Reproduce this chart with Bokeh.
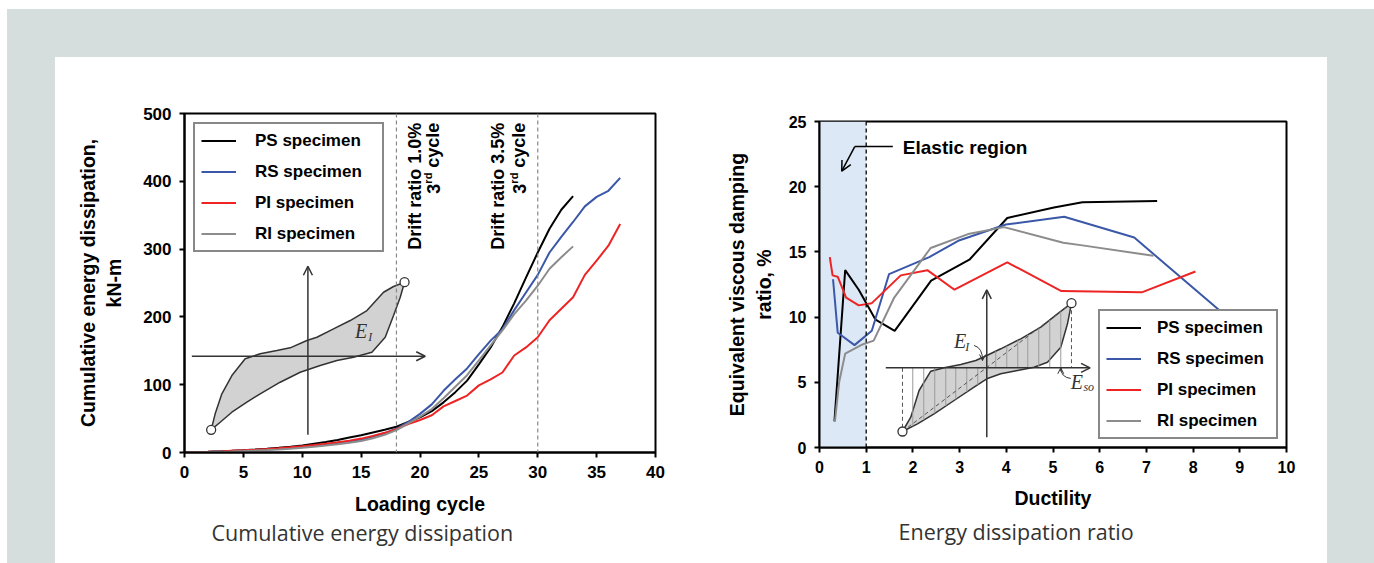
import numpy as np
from bokeh.plotting import figure
from bokeh.models import (Range1d, FixedTicker, Legend, LegendItem, Span, BoxAnnotation,
                          Label, Title, Arrow, OpenHead)
from bokeh.layouts import row, column
from bokeh.embed import file_html
from bokeh.resources import INLINE

# ---------------- data: cumulative energy dissipation (kN-m) vs loading cycle ----------------
ps_cycles = list(range(0, 34))
ps_energy = [0, 0.5, 1, 1.7, 2.5, 3.4, 4.4, 5.5, 7, 8.6, 10.5, 13, 15.5, 18.5, 22, 25.5, 29.5,
             33.5, 38, 45, 52, 61, 74, 89, 106, 130, 155, 185, 220, 258, 295, 330, 358, 378]
rs_cycles = list(range(0, 38))
rs_energy = [0, 0.4, 0.8, 1.3, 2, 2.8, 3.6, 4.6, 5.7, 7, 8.5, 10, 11.8, 14, 16.5, 19, 23.5, 28.5,
             35, 45, 57, 71, 91, 108, 124, 145, 165, 182, 210, 236, 262, 295, 318, 340, 363, 377,
             386, 405]
pi_cycles = list(range(0, 38))
pi_energy = [0, 0.5, 1, 1.6, 2.4, 3.2, 4.1, 5.1, 6.3, 7.7, 9.3, 11, 13, 15.2, 17.5, 20.5, 24.5, 29,
             34.5, 42, 48, 55, 68, 76, 84, 99, 108, 118, 143, 155, 170, 195, 212, 229, 262, 283,
             305, 337]
ri_cycles = list(range(0, 34))
ri_energy = [0, 0.3, 0.6, 1, 1.5, 2.1, 2.8, 3.6, 4.5, 5.6, 7, 8.5, 10.2, 12.2, 14.5, 17, 21, 26,
             33, 43, 53, 64, 80, 97, 114, 136, 158, 180, 204, 224, 246, 271, 288, 304]
drift_cycles = [18, 30]
drift_labels = ["Drift ratio 1.0%", "Drift ratio 3.5%"]
drift_text_x = [(19.6, 21.13), (26.65, 28.44)]   # where the two text lines sit (cycle units)

# ---------------- data: equivalent viscous damping ratio (%) vs ductility ----------------
ps_duct = [0.32, 0.55, 0.84, 1.2, 1.61, 2.39, 3.21, 4.02, 5.02, 5.63, 7.23]
ps_damp = [2.0, 13.6, 12.1, 9.8, 8.95, 12.8, 14.4, 17.6, 18.4, 18.8, 18.9]
rs_duct = [0.29, 0.39, 0.75, 1.12, 1.49, 2.35, 2.97, 3.99, 5.24, 6.74, 8.65]
rs_damp = [12.9, 8.8, 7.85, 8.95, 13.3, 14.6, 15.85, 17.1, 17.7, 16.1, 10.25]
pi_duct = [0.22, 0.28, 0.39, 0.57, 0.84, 1.12, 1.74, 2.31, 2.89, 4.02, 5.18, 6.9, 8.05]
pi_damp = [14.6, 13.2, 13.1, 11.5, 10.9, 11.07, 13.2, 13.6, 12.1, 14.2, 12.0, 11.9, 13.5]
ri_duct = [0.33, 0.42, 0.55, 0.92, 1.16, 1.6, 2.38, 3.21, 3.95, 5.22, 5.63, 7.15]
ri_damp = [2.0, 5.0, 7.2, 7.9, 8.2, 11.5, 15.3, 16.4, 16.9, 15.7, 15.5, 14.7]
elastic_limit = 1.0

names = ["PS specimen", "RS specimen", "PI specimen", "RI specimen"]
colors = ["#000000", "#3a57a8", "#ee2424", "#8c8c8c"]

# ---------------- inset sketches (local pixel-like units, origin at sketch axes) ----------------
l_up_u = [-96.7, -92.7, -86.0, -76.0, -62.7, -47.7, -31.0, -17.7, -1.0, 9.0, 25.6, 42.3, 59.0, 75.6, 85.6, 96.6]
l_up_v = [-73.6, -57.6, -37.6, -19.3, -2.6, 2.4, 5.7, 8.4, 15.7, 19.0, 27.4, 35.7, 45.7, 64.0, 69.7, 74.0]
l_lo_u = [92.3, 85.6, 77.3, 64.0, 45.6, 29.0, 12.3, -7.7, -27.7, -47.7, -61.0, -76.0, -87.7]
l_lo_v = [59.0, 40.7, 19.0, 4.0, -1.0, -4.3, -9.3, -16.0, -26.0, -37.6, -46.0, -56.0, -66.0]

r_up_u = [-84.3, -76, -67.7, -56, -42.7, -26, -11, 0, 14, 34, 54, 70.7, 84.7]
r_up_v = [-63.7, -49.4, -22.7, -3.4, 0, 3.3, 7.3, 12.3, 19, 29, 40.6, 54, 64.6]
r_lo_u = [80.7, 74, 60.7, 47.3, 30.7, 14, 0, -12.7, -32.7, -52.7, -69.3]
r_lo_v = [44, 20.6, 5.6, 0.6, -2.7, -6, -11, -19.4, -32.7, -46, -56]
r_hatch_left = [-74, -63, -52, -41, -31, -20, -9]
r_hatch_right = [9, 20, 31, 41, 52, 63, 74]

FONT = "Liberation Sans"
SERIF = "Liberation Serif"
INK = "#333333"


def style(p, xticks, yticks, tick_fs, xlab, ylab, ylab_standoff, xlab_standoff):
    p.grid.visible = False
    p.outline_line_color = "black"
    p.outline_line_width = 2
    p.border_fill_color = "white"
    p.background_fill_color = "white"
    p.xaxis.ticker = FixedTicker(ticks=xticks)
    p.yaxis.ticker = FixedTicker(ticks=yticks)
    for ax in (p.xaxis[0], p.yaxis[0]):
        ax.axis_line_color = "black"
        ax.axis_line_width = 2
        ax.major_tick_line_color = "black"
        ax.major_tick_line_width = 2
        ax.major_tick_out = 5
        ax.major_tick_in = 0
        ax.minor_tick_line_color = None
        ax.major_label_text_font = FONT
        ax.major_label_text_font_style = "bold"
        ax.major_label_text_font_size = tick_fs
        ax.major_label_text_color = "black"
        ax.axis_label_text_font = FONT
        ax.axis_label_text_font_style = "bold"
        ax.axis_label_text_font_size = "19.5px"
        ax.axis_label_text_color = "black"
        ax.major_label_standoff = 8
    p.xaxis.axis_label = xlab
    p.yaxis.axis_label = ylab
    p.xaxis.axis_label_standoff = xlab_standoff
    p.yaxis.axis_label_standoff = ylab_standoff


def make_legend(renderers, location, margin, standoff, label_width):
    items = [LegendItem(label=n, renderers=[r]) for n, r in zip(names, renderers)]
    return Legend(items=items, location=location, margin=margin, padding=6, spacing=10,
                  label_height=21, glyph_height=21, glyph_width=35, label_standoff=standoff,
                  label_width=label_width, border_line_color="#111111", border_line_width=2,
                  background_fill_color="white", background_fill_alpha=1,
                  label_text_font=FONT, label_text_font_style="bold",
                  label_text_font_size="17px", label_text_color="black")


def caption(text, offset, standoff):
    return Title(text=text, align="left", offset=offset, text_font="Open Sans",
                 text_font_style="normal", text_font_size="21.5px", text_color="#333333",
                 standoff=standoff)


# ================= left chart =================
p1 = figure(width=633, height=506, x_range=Range1d(0, 40), y_range=Range1d(0, 500),
            output_backend="svg", toolbar_location=None,
            min_border_left=129, min_border_right=33, min_border_top=56, min_border_bottom=111)
style(p1, list(range(0, 45, 5)), list(range(0, 600, 100)), "17px", "Loading cycle",
      "Cumulative energy dissipation,\nkN-m", 15, 12)

# inset hysteresis sketch
lcx, lcy, lkx, lky = 10.48, 142.0, 11.77, 0.678


def l_map(u, v):
    return list(lcx + np.asarray(u, float) / lkx), list(lcy + np.asarray(v, float) / lky)


lx, ly = l_map(l_up_u + l_lo_u, l_up_v + l_lo_v)
p1.patch(lx, ly, fill_color="#d2d2d2", line_color=INK, line_width=1.5)
ax0, ay0 = l_map([-116, 117.3], [0, 0])
p1.add_layout(Arrow(end=OpenHead(size=9, line_color=INK, line_width=1.5), x_start=ax0[0],
                    y_start=ay0[0], x_end=ax0[1], y_end=ay0[1], line_color=INK, line_width=1.5))
bx0, by0 = l_map([0, 0], [-78.6, 90])
p1.add_layout(Arrow(end=OpenHead(size=9, line_color=INK, line_width=1.5), x_start=bx0[0],
                    y_start=by0[0], x_end=bx0[1], y_end=by0[1], line_color=INK, line_width=1.5))
cx_, cy_ = l_map([-96.7, 96.6], [-73.6, 74.0])
p1.scatter(cx_, cy_, size=9, fill_color="white", line_color=INK, line_width=1.3)
ex, ey = l_map([53.3, 62.3], [25.7, 19.7])
p1.add_layout(Label(x=ex[0], y=ey[0], text="E", text_font=SERIF, text_font_style="italic",
                    text_font_size="20px", text_color=INK, text_align="center",
                    text_baseline="middle"))
p1.add_layout(Label(x=ex[1], y=ey[1], text="I", text_font=SERIF, text_font_style="italic",
                    text_font_size="12px", text_color=INK, text_align="center",
                    text_baseline="middle"))

for c in drift_cycles:
    p1.add_layout(Span(location=c, dimension="height", line_color="#888888",
                       line_dash="4 3", line_width=1.2))

r_left = []
for xs, ys, col in zip([ps_cycles, rs_cycles, pi_cycles, ri_cycles],
                       [ps_energy, rs_energy, pi_energy, ri_energy], colors):
    r_left.append(p1.line(xs, ys, line_color=col, line_width=2))

# rotated drift annotations
top_y = 486.5
for (x1, x2), lab in zip(drift_text_x, drift_labels):
    p1.add_layout(Label(x=x1, y=top_y, text=lab, angle=90, angle_units="deg",
                        text_align="right", text_baseline="middle", text_font=FONT,
                        text_font_style="bold", text_font_size="18px", text_color="black"))
    p1.add_layout(Label(x=x2, y=top_y, text="cycle", angle=90, angle_units="deg",
                        text_align="right", text_baseline="middle", text_font=FONT,
                        text_font_style="bold", text_font_size="18px", text_color="black"))
    p1.add_layout(Label(x=x2, y=top_y, y_offset=-50, x_offset=-5, text="rd", angle=90,
                        angle_units="deg", text_align="right", text_baseline="middle",
                        text_font=FONT, text_font_style="bold", text_font_size="11px",
                        text_color="black"))
    p1.add_layout(Label(x=x2, y=top_y, y_offset=-61, text="3", angle=90, angle_units="deg",
                        text_align="right", text_baseline="middle", text_font=FONT,
                        text_font_style="bold", text_font_size="18px", text_color="black"))

p1.add_layout(make_legend(r_left, "top_left", 9, 19, 121))
p1.add_layout(caption("Cumulative energy dissipation", 27, -4), "below")

# ================= right chart =================
p2 = figure(width=639, height=493, x_range=Range1d(0, 10), y_range=Range1d(0, 25),
            output_backend="svg", toolbar_location=None,
            min_border_left=131, min_border_right=41, min_border_top=56, min_border_bottom=111)
style(p2, list(range(0, 11)), list(range(0, 30, 5)), "16px", "Ductility",
      "Equivalent viscous damping\nratio, %", 11, 11)

p2.add_layout(BoxAnnotation(left=0, right=elastic_limit, fill_color="#dce8f5", fill_alpha=1,
                            line_color=None, level="underlay"))
p2.add_layout(Span(location=elastic_limit, dimension="height", line_color="black",
                   line_dash="4 3", line_width=1.3))

rcx, rcy, rkx, rky = 3.582, 6.112, 46.7, 13.04


def r_map(u, v):
    return list(rcx + np.asarray(u, float) / rkx), list(rcy + np.asarray(v, float) / rky)


# hatch lines (elastic strain energy)
lo_full_u = [-84.3] + r_lo_u[::-1] + [84.7]
lo_full_v = [-63.7] + r_lo_v[::-1] + [64.6]
hx, hy = [], []
for u in r_hatch_left:
    vb = float(np.interp(u, lo_full_u, lo_full_v))
    a, b = r_map([u, u], [0, vb])
    hx.append(a); hy.append(b)
for u in r_hatch_right:
    vb = float(np.interp(u, r_up_u, r_up_v))
    a, b = r_map([u, u], [0, vb])
    hx.append(a); hy.append(b)
rx, ry = r_map(r_up_u + r_lo_u, r_up_v + r_lo_v)
p2.patch(rx, ry, fill_color="#d2d2d2", line_color=INK, line_width=1.5)
p2.multi_line(hx, hy, line_color="#9a9a9a", line_width=1)
dxs, dys = r_map([-84.3, 84.7], [-63.7, 64.6])
p2.line(dxs, dys, line_color="#555555", line_dash="4 3", line_width=1)
for (u0, v0, v1) in [(-84.3, 0, -63.7), (84.7, 64.6, 0)]:
    a, b = r_map([u0, u0], [v0, v1])
    p2.line(a, b, line_color="#555555", line_dash="4 3", line_width=1)
ax1, ay1 = r_map([-101, 103.3], [0, 0])
p2.add_layout(Arrow(end=OpenHead(size=9, line_color=INK, line_width=1.5), x_start=ax1[0],
                    y_start=ay1[0], x_end=ax1[1], y_end=ay1[1], line_color=INK, line_width=1.5))
bx1, by1 = r_map([0, 0], [-69.4, 78])
p2.add_layout(Arrow(end=OpenHead(size=9, line_color=INK, line_width=1.5), x_start=bx1[0],
                    y_start=by1[0], x_end=bx1[1], y_end=by1[1], line_color=INK, line_width=1.5))
cx2, cy2 = r_map([-84.3, 84.7], [-63.7, 64.6])
p2.scatter(cx2, cy2, size=9, fill_color="white", line_color=INK, line_width=1.3)
qx, qy = r_map([-12.7, -4.0, -4.3], [22.3, 20.0, 7.3])
p2.quadratic(x0=[qx[0]], y0=[qy[0]], cx=[qx[1]], cy=[qy[1]], x1=[qx[2]], y1=[qy[2]],
             line_color=INK, line_width=1)
ah, av = r_map([-4.25, -4.3], [10.5, 7.3])
p2.add_layout(Arrow(end=OpenHead(size=6, line_color=INK, line_width=1), x_start=ah[0],
                    y_start=av[0], x_end=ah[1], y_end=av[1], line_color=INK, line_width=1))
qx, qy = r_map([84, 74, 74], [-10.7, -9.4, 0])
p2.quadratic(x0=[qx[0]], y0=[qy[0]], cx=[qx[1]], cy=[qy[1]], x1=[qx[2]], y1=[qy[2]],
             line_color=INK, line_width=1)
ah, av = r_map([74, 74], [-3.5, 0])
p2.add_layout(Arrow(end=OpenHead(size=6, line_color=INK, line_width=1), x_start=ah[0],
                    y_start=av[0], x_end=ah[1], y_end=av[1], line_color=INK, line_width=1))
lx2, ly2 = r_map([-26.7, -19.5, 90, 102], [26.3, 20.6, -14.4, -19.4])
for (xx, yy, t, fs) in [(lx2[0], ly2[0], "E", "20px"), (lx2[1], ly2[1], "I", "12px"),
                        (lx2[2], ly2[2], "E", "20px"), (lx2[3], ly2[3], "so", "12px")]:
    p2.add_layout(Label(x=xx, y=yy, text=t, text_font=SERIF, text_font_style="italic",
                        text_font_size=fs, text_color=INK, text_align="center",
                        text_baseline="middle"))

r_right = []
for xs, ys, col in zip([ps_duct, rs_duct, pi_duct, ri_duct],
                       [ps_damp, rs_damp, pi_damp, ri_damp], colors):
    r_right.append(p2.line(xs, ys, line_color=col, line_width=2))

# elastic region pointer
p2.line([1.57, 0.755], [23.08, 23.08], line_color="black", line_width=1.5)
p2.add_layout(Arrow(end=OpenHead(size=10, line_color="black", line_width=1.5), x_start=0.755,
                    y_start=23.08, x_end=0.476, y_end=21.19, line_color="black", line_width=1.5))
p2.add_layout(Label(x=1.784, y=22.98, text="Elastic region", text_align="left",
                    text_baseline="middle", text_font=FONT, text_font_style="bold",
                    text_font_size="19px", text_color="black"))

p2.add_layout(make_legend(r_right, "bottom_right", 8, 16, 113))
p2.add_layout(caption("Energy dissipation ratio", 79, 7), "below")

left_box = column(p1)
right_box = column(p2, margin=(8, 0, 0, 0))
inner = row(left_box, right_box, styles={"background-color": "white"}, margin=(48, 47, 0, 48))
layout = row(inner, styles={"background-color": "#d5dedc"}, margin=(9, 0, 0, 7))

open("out.html", "w").write(file_html(layout, INLINE))
